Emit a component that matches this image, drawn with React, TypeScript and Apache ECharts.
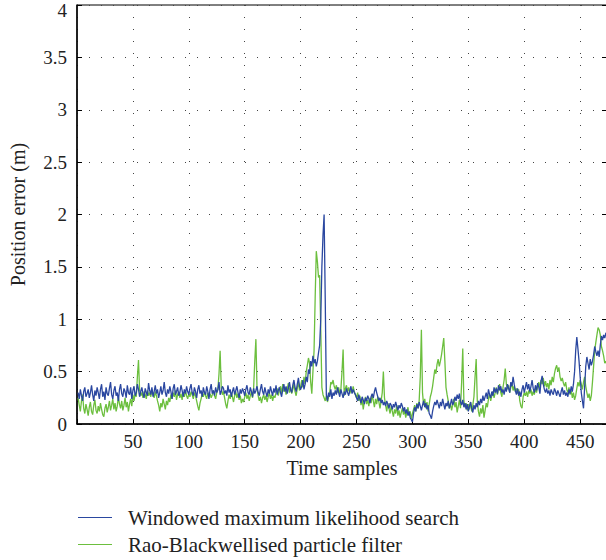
import React, { useEffect, useRef } from "react";
import * as echarts from "echarts";

// Position error per time sample (m), samples 1..474
const wmlsError: number[] = [
  0.30,0.24,0.33,0.27,0.22,0.31,0.35,0.26,0.29,0.33,
  0.25,0.30,0.37,0.28,0.22,0.32,0.27,0.35,0.30,0.24,
  0.33,0.38,0.26,0.31,0.23,0.35,0.29,0.27,0.34,0.40,
  0.28,0.24,0.32,0.36,0.27,0.30,0.22,0.33,0.38,0.29,
  0.26,0.34,0.31,0.25,0.37,0.30,0.28,0.35,0.24,0.32,
  0.36,0.27,0.30,0.38,0.33,0.26,0.31,0.35,0.29,0.25,
  0.34,0.30,0.27,0.39,0.32,0.28,0.35,0.26,0.31,0.37,
  0.29,0.33,0.25,0.30,0.36,0.28,0.32,0.40,0.30,0.26,
  0.33,0.29,0.36,0.31,0.24,0.34,0.38,0.28,0.31,0.35,
  0.27,0.30,0.37,0.32,0.26,0.33,0.29,0.36,0.31,0.28,
  0.34,0.38,0.30,0.27,0.35,0.31,0.25,0.33,0.37,0.29,
  0.32,0.26,0.35,0.30,0.28,0.36,0.31,0.24,0.33,0.38,
  0.29,0.32,0.27,0.35,0.30,0.33,0.40,0.28,0.31,0.36,
  0.34,0.29,0.32,0.27,0.37,0.30,0.33,0.26,0.31,0.35,
  0.28,0.32,0.36,0.30,0.25,0.33,0.29,0.34,0.31,0.27,
  0.33,0.37,0.30,0.28,0.35,0.31,0.26,0.34,0.29,0.32,
  0.36,0.30,0.27,0.33,0.38,0.31,0.28,0.35,0.30,0.26,
  0.33,0.29,0.36,0.31,0.27,0.34,0.30,0.37,0.28,0.32,
  0.35,0.30,0.26,0.33,0.38,0.31,0.36,0.29,0.34,0.40,
  0.33,0.30,0.37,0.42,0.35,0.31,0.38,0.44,0.36,0.33,
  0.36,0.42,0.33,0.38,0.45,0.40,0.52,0.48,0.60,0.55,
  0.65,0.58,0.62,0.55,0.60,0.68,0.75,1.00,1.50,1.80,
  2.00,1.20,0.28,0.22,0.30,0.26,0.33,0.24,0.30,0.27,
  0.32,0.28,0.35,0.30,0.26,0.33,0.29,0.25,0.31,0.28,
  0.34,0.30,0.27,0.32,0.36,0.29,0.33,0.30,0.28,0.25,
  0.22,0.28,0.24,0.20,0.26,0.23,0.19,0.25,0.22,0.27,
  0.24,0.20,0.26,0.29,0.25,0.31,0.35,0.30,0.26,0.22,
  0.25,0.20,0.23,0.18,0.21,0.17,0.22,0.19,0.15,0.20,
  0.18,0.14,0.19,0.16,0.21,0.17,0.13,0.18,0.15,0.20,
  0.17,0.12,0.16,0.10,0.14,0.08,0.12,0.06,0.04,0.02,
  0.10,0.16,0.12,0.19,0.15,0.21,0.17,0.13,0.18,0.22,
  0.16,0.20,0.14,0.18,0.10,0.08,0.05,0.12,0.17,0.21,
  0.18,0.23,0.19,0.15,0.21,0.17,0.24,0.19,0.14,0.20,
  0.17,0.22,0.15,0.19,0.24,0.18,0.21,0.26,0.22,0.28,
  0.24,0.29,0.21,0.18,0.23,0.16,0.20,0.14,0.19,0.12,
  0.17,0.21,0.15,0.11,0.18,0.14,0.20,0.16,0.22,0.18,
  0.24,0.20,0.27,0.22,0.26,0.30,0.24,0.33,0.28,0.25,
  0.31,0.27,0.35,0.30,0.34,0.29,0.37,0.32,0.36,0.30,
  0.33,0.28,0.35,0.31,0.38,0.34,0.30,0.40,0.36,0.45,
  0.38,0.32,0.28,0.34,0.27,0.31,0.26,0.33,0.37,0.30,
  0.35,0.40,0.33,0.38,0.31,0.36,0.42,0.34,0.30,0.37,
  0.32,0.39,0.35,0.29,0.41,0.46,0.38,0.33,0.30,0.34,
  0.29,0.32,0.27,0.33,0.30,0.28,0.34,0.31,0.27,0.32,
  0.29,0.26,0.31,0.35,0.28,0.32,0.27,0.30,0.26,0.33,
  0.29,0.36,0.31,0.38,0.50,0.70,0.83,0.72,0.60,0.45,
  0.30,0.22,0.15,0.35,0.55,0.64,0.58,0.52,0.62,0.56,
  0.60,0.66,0.74,0.69,0.65,0.70,0.64,0.75,0.84,0.80,
  0.85,0.82,0.87,0.86,
];

const rbpfError: number[] = [
  0.25,0.18,0.12,0.22,0.28,0.15,0.10,0.19,0.14,0.08,
  0.16,0.21,0.12,0.09,0.18,0.23,0.13,0.10,0.17,0.12,
  0.20,0.14,0.09,0.07,0.15,0.19,0.11,0.16,0.22,0.13,
  0.18,0.24,0.14,0.20,0.12,0.17,0.26,0.19,0.15,0.22,
  0.13,0.18,0.25,0.16,0.21,0.12,0.19,0.24,0.17,0.28,
  0.22,0.29,0.26,0.45,0.61,0.32,0.27,0.30,0.25,0.31,
  0.28,0.24,0.32,0.27,0.30,0.26,0.33,0.29,0.25,0.31,
  0.27,0.22,0.18,0.12,0.20,0.16,0.24,0.19,0.14,0.22,
  0.18,0.25,0.21,0.28,0.24,0.30,0.26,0.32,0.23,0.28,
  0.31,0.25,0.29,0.23,0.30,0.26,0.32,0.27,0.24,0.29,
  0.26,0.31,0.28,0.24,0.30,0.27,0.22,0.17,0.13,0.20,
  0.24,0.29,0.26,0.31,0.27,0.24,0.30,0.26,0.29,0.25,
  0.28,0.32,0.27,0.24,0.30,0.33,0.48,0.70,0.35,0.28,
  0.31,0.25,0.19,0.15,0.22,0.28,0.24,0.30,0.26,0.21,
  0.27,0.31,0.25,0.29,0.23,0.27,0.20,0.24,0.21,0.26,
  0.30,0.24,0.28,0.22,0.27,0.31,0.25,0.35,0.60,0.81,
  0.34,0.27,0.22,0.26,0.20,0.25,0.28,0.23,0.27,0.21,
  0.26,0.30,0.24,0.28,0.22,0.27,0.25,0.30,0.34,0.27,
  0.32,0.36,0.29,0.38,0.31,0.35,0.28,0.33,0.39,0.30,
  0.35,0.29,0.33,0.38,0.31,0.27,0.34,0.40,0.32,0.36,
  0.42,0.35,0.45,0.38,0.50,0.56,0.63,0.58,0.40,0.29,
  0.50,0.70,1.20,1.65,1.55,1.40,1.42,0.90,0.35,0.28,
  0.25,0.22,0.27,0.21,0.26,0.30,0.40,0.38,0.42,0.36,
  0.33,0.37,0.30,0.35,0.29,0.33,0.50,0.71,0.27,0.34,
  0.37,0.31,0.35,0.29,0.33,0.30,0.36,0.31,0.28,0.25,
  0.30,0.22,0.27,0.18,0.24,0.14,0.21,0.26,0.19,0.23,
  0.17,0.25,0.20,0.28,0.22,0.16,0.24,0.19,0.26,0.21,
  0.15,0.22,0.30,0.50,0.25,0.18,0.12,0.20,0.15,0.10,
  0.17,0.12,0.07,0.14,0.10,0.18,0.08,0.13,0.06,0.11,
  0.15,0.09,0.13,0.06,0.11,0.16,0.08,0.12,0.05,0.10,
  0.14,0.18,0.12,0.20,0.15,0.22,0.45,0.90,0.30,0.18,
  0.24,0.15,0.21,0.12,0.19,0.26,0.30,0.36,0.44,0.52,
  0.48,0.57,0.62,0.55,0.60,0.66,0.74,0.82,0.60,0.35,
  0.28,0.22,0.15,0.20,0.13,0.18,0.24,0.16,0.21,0.11,
  0.17,0.23,0.15,0.40,0.72,0.22,0.16,0.20,0.13,0.19,
  0.14,0.21,0.12,0.18,0.26,0.45,0.62,0.22,0.12,0.07,
  0.15,0.10,0.18,0.06,0.13,0.20,0.16,0.24,0.29,0.22,
  0.27,0.31,0.25,0.30,0.35,0.28,0.33,0.38,0.30,0.26,
  0.35,0.42,0.53,0.38,0.33,0.37,0.30,0.35,0.39,0.32,
  0.36,0.31,0.34,0.29,0.33,0.22,0.17,0.15,0.26,0.30,
  0.27,0.31,0.26,0.32,0.29,0.33,0.27,0.31,0.28,0.34,
  0.30,0.36,0.40,0.34,0.42,0.38,0.44,0.36,0.41,0.35,
  0.39,0.33,0.42,0.37,0.45,0.40,0.48,0.53,0.56,0.50,
  0.54,0.45,0.41,0.44,0.39,0.36,0.40,0.33,0.30,0.35,
  0.28,0.32,0.25,0.30,0.23,0.27,0.34,0.40,0.36,0.42,
  0.38,0.33,0.40,0.45,0.36,0.30,0.25,0.29,0.22,0.27,
  0.40,0.55,0.70,0.78,0.85,0.92,0.90,0.85,0.74,0.70,
  0.65,0.58,0.60,0.56,
];

const seriesNames = [
  "Windowed maximum likelihood search",
  "Rao-Blackwellised particle filter",
];
const seriesColors = ["#2a47a0", "#6cbf3e"];
const xTickStep = 50;
const xMax = 474;
const yMax = 4;
const yTickStep = 0.5;

const serif = "Liberation Serif";
const textColor = "#222";

export default function App() {
  const ref = useRef<HTMLDivElement>(null);

  useEffect(() => {
    document.body.style.margin = "0";
    if (!ref.current) return;
    const chart = echarts.init(ref.current, undefined, { renderer: "svg" });

    const toPoints = (arr: number[]) => arr.map((v, i) => [i + 1, v]);
    const gridDots = { color: "#444", width: 1, type: [1, 11] as number[] };
    const axisText = { color: textColor, fontSize: 19, fontFamily: serif };
    const titleText = { color: textColor, fontSize: 20, fontFamily: serif };
    const legendText = {
      color: textColor,
      fontSize: 21,
      fontFamily: serif,
      padding: [0, 0, 0, 11],
    };

    // one legend box per series, stacked below the axis title
    const legendRow = (name: string, top: number) => ({
      left: 78,
      top,
      padding: 0,
      itemWidth: 34,
      itemHeight: 14,
      icon: "path://M0,7 L34,7 L34,8 L0,8 Z",
      textStyle: legendText,
      data: [name],
    });

    chart.setOption({
      animation: false,
      grid: {
        left: 77,
        top: 5,
        right: -1,
        bottom: 136,
        outerBoundsMode: "none",
        containLabel: false,
        show: true,
        borderColor: "#000",
        borderWidth: 1,
        backgroundColor: "transparent",
      },
      legend: [legendRow(seriesNames[0], 507), legendRow(seriesNames[1], 534)],
      xAxis: {
        type: "value",
        min: 0,
        max: xMax,
        interval: xTickStep,
        name: "Time samples",
        nameLocation: "middle",
        nameGap: 34,
        nameTextStyle: titleText,
        axisLine: { show: true, lineStyle: { color: "#000", width: 1.5 } },
        axisTick: { show: true, inside: true, length: 5, lineStyle: { color: "#000" } },
        axisLabel: {
          ...axisText,
          margin: 8,
          showMaxLabel: false,
          formatter: (v: number) => (v > 0 && v % xTickStep === 0 ? String(v) : ""),
        },
        splitLine: { show: true, lineStyle: gridDots },
      },
      yAxis: [
        {
          type: "value",
          min: 0,
          max: yMax,
          interval: yTickStep,
          name: "Position error (m)",
          nameLocation: "middle",
          nameGap: 49,
          nameTextStyle: titleText,
          axisLine: { show: true, lineStyle: { color: "#000", width: 1.5 } },
          axisTick: { show: true, inside: true, length: 5, lineStyle: { color: "#000" } },
          axisLabel: {
            ...axisText,
            margin: 10,
            // the top label sits a little lower so it stays inside the page
            formatter: (v: number) => (v === yMax ? `{top|${v}}` : String(v)),
            rich: { top: { ...axisText, padding: [10, 0, 0, 0] } },
          },
          splitLine: { show: true, lineStyle: gridDots },
        },
        {
          type: "value",
          position: "right",
          min: 0,
          max: yMax,
          interval: yTickStep,
          axisLine: { show: false },
          axisTick: { show: true, inside: true, length: 5, lineStyle: { color: "#000" } },
          axisLabel: { show: false },
          splitLine: { show: false },
        },
      ],
      series: [
        {
          name: seriesNames[0],
          type: "line",
          data: toPoints(wmlsError),
          symbol: "none",
          lineStyle: { color: seriesColors[0], width: 1.3 },
          itemStyle: { color: seriesColors[0] },
          z: 3,
        },
        {
          name: seriesNames[1],
          type: "line",
          data: toPoints(rbpfError),
          symbol: "none",
          lineStyle: { color: seriesColors[1], width: 1.3 },
          itemStyle: { color: seriesColors[1] },
          z: 2,
        },
      ],
    });

    return () => chart.dispose();
  }, []);

  return <div ref={ref} style={{ width: 606, height: 560 }} />;
}
